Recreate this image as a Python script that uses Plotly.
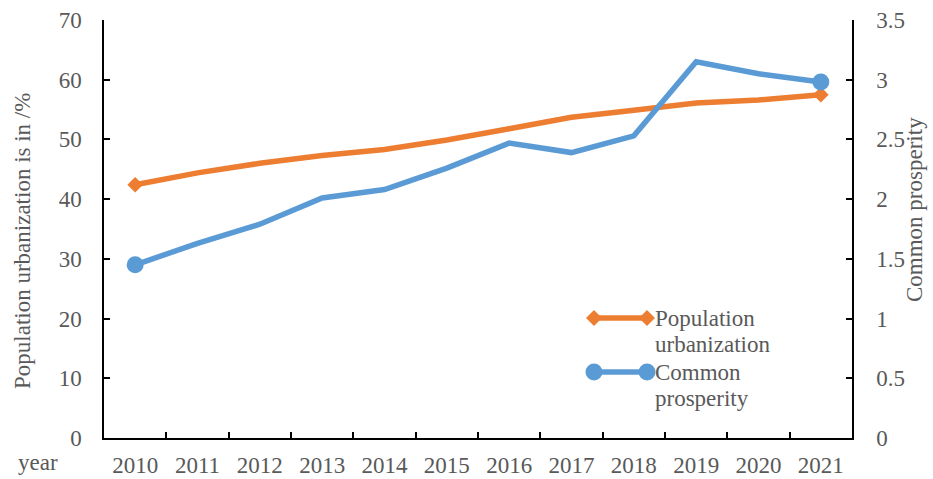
import plotly.graph_objects as go

years = ["2010", "2011", "2012", "2013", "2014", "2015", "2016", "2017", "2018", "2019", "2020", "2021"]
urbanization = [42.4, 44.4, 46.0, 47.3, 48.3, 49.9, 51.8, 53.7, 54.9, 56.1, 56.6, 57.5]
prosperity = [1.45, 1.63, 1.79, 2.01, 2.08, 2.26, 2.47, 2.39, 2.53, 3.15, 3.05, 2.98]

ORANGE = "#ED7D31"
BLUE = "#5B9BD5"
GRAY = "#595959"
FONT = "Times New Roman, Liberation Serif, Tinos, DejaVu Serif, serif"

W, H = 933, 479
L, R, T, B = 104, 81, 20, 41
PW, PH = W - L - R, H - T - B


def px(x):
    return (x - L) / PW


def py(y):
    return (H - B - y) / PH


def end_sizes(n, s):
    return [s if i in (0, n - 1) else 0 for i in range(n)]


fig = go.Figure()
fig.add_trace(go.Scatter(
    x=years, y=urbanization, name="Population urbanization",
    mode="lines+markers",
    line=dict(color=ORANGE, width=5.5),
    marker=dict(symbol="diamond", size=end_sizes(len(years), 12), color=ORANGE,
                opacity=1, line=dict(width=0)),
    yaxis="y", showlegend=False,
))
fig.add_trace(go.Scatter(
    x=years, y=prosperity, name="Common prosperity",
    mode="lines+markers",
    line=dict(color=BLUE, width=5.5),
    marker=dict(symbol="circle", size=end_sizes(len(years), 17), color=BLUE,
                opacity=1, line=dict(width=0)),
    yaxis="y2", showlegend=False,
))

axis_common = dict(
    showgrid=False, zeroline=False, showline=True, linecolor="black", linewidth=1.5,
    ticks="inside", ticklen=6, tickwidth=1.5, tickcolor="black",
    tickfont=dict(family=FONT, size=23, color=GRAY),
)

fig.update_layout(
    width=W, height=H,
    margin=dict(l=L, r=R, t=T, b=B, autoexpand=False),
    paper_bgcolor="white", plot_bgcolor="white",
    font=dict(family=FONT, color=GRAY, size=23),
    xaxis=dict(**axis_common, type="category", tickson="boundaries", ticklabelstandoff=6,
               range=[-0.5, len(years) - 0.5]),
    yaxis=dict(**axis_common, range=[0, 70], dtick=10, ticklabelstandoff=16),
    yaxis2=dict(**axis_common, range=[0, 3.5], dtick=0.5, overlaying="y", side="right",
                ticklabelstandoff=18),
    showlegend=False,
)

annotations = [
    dict(text="Population urbanization is in /%", x=px(23), y=py(241), textangle=-90),
    dict(text="Common prosperity", x=px(914), y=py(210), textangle=-90),
    dict(text="year", x=px(38), y=py(463)),
]
for a in annotations:
    fig.add_annotation(xref="paper", yref="paper", showarrow=False,
                       xanchor="center", yanchor="middle",
                       font=dict(family=FONT, size=23, color=GRAY), **a)

# custom legend (line with markers at both ends)
legend_items = [
    (ORANGE, "diamond", 318, ["Population", "urbanization"]),
    (BLUE, "circle", 372, ["Common", "prosperity"]),
]
x_a, x_b, x_text = 594, 647, 653
for color, sym, yy, lines in legend_items:
    fig.add_shape(type="line", xref="paper", yref="paper",
                  x0=px(x_a), x1=px(x_b), y0=py(yy), y1=py(yy),
                  line=dict(color=color, width=5.5))
    for xx in (x_a, x_b):
        if sym == "circle":
            fig.add_shape(type="circle", xref="paper", yref="paper",
                          xsizemode="pixel", ysizemode="pixel",
                          xanchor=px(xx), yanchor=py(yy),
                          x0=-8.5, x1=8.5, y0=-8.5, y1=8.5,
                          fillcolor=color, line=dict(width=0))
        else:
            fig.add_shape(type="path", xref="paper", yref="paper",
                          xsizemode="pixel", ysizemode="pixel",
                          xanchor=px(xx), yanchor=py(yy),
                          path="M -8 0 L 0 8 L 8 0 L 0 -8 Z",
                          fillcolor=color, line=dict(width=0))
    for i, t in enumerate(lines):
        fig.add_annotation(xref="paper", yref="paper", showarrow=False,
                           xanchor="left", yanchor="middle",
                           x=px(x_text), y=py(yy + 26 * i), text=t,
                           font=dict(family=FONT, size=23, color=GRAY))

fig.write_html("out.html", config={"displayModeBar": False},
               post_script="document.body.style.margin='0';")
